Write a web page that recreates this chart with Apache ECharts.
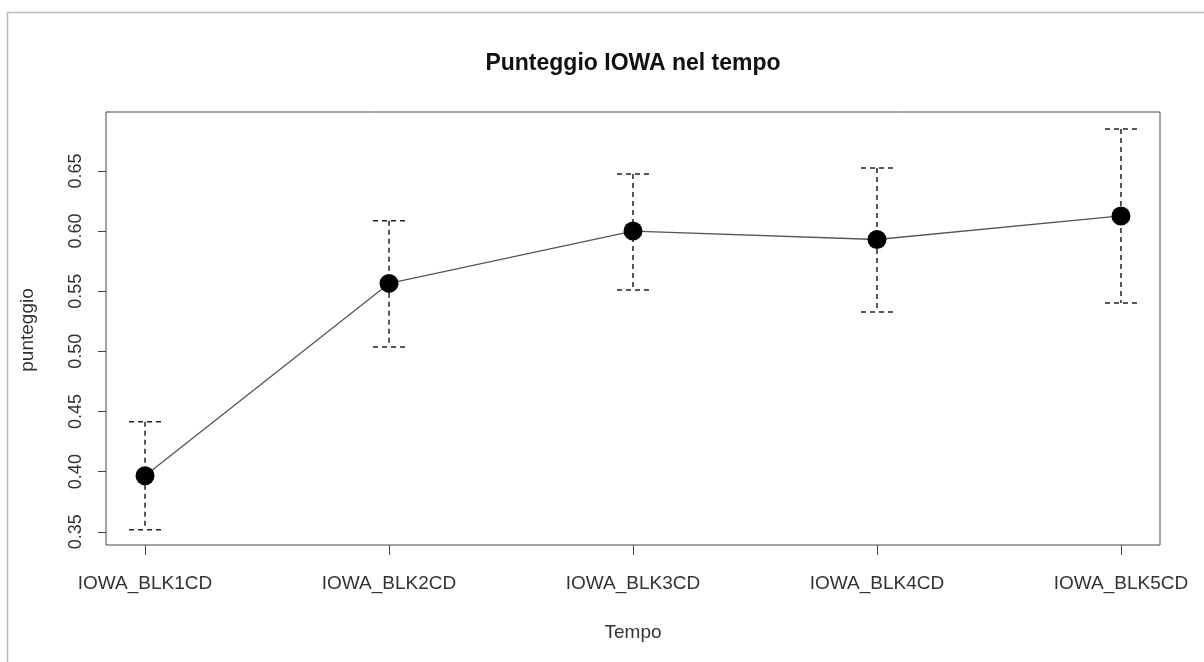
<!DOCTYPE html>
<html>
<head>
<meta charset="utf-8">
<script src="https://cdn.jsdelivr.net/npm/echarts@6/dist/echarts.min.js"></script>
<style>
html,body{margin:0;padding:0;background:#fff;}
#chart{width:1204px;height:662px;}
</style>
</head>
<body>
<div id="chart"></div>
<script>
var categories = ['IOWA_BLK1CD', 'IOWA_BLK2CD', 'IOWA_BLK3CD', 'IOWA_BLK4CD', 'IOWA_BLK5CD'];
var means = [0.3965, 0.5565, 0.6000, 0.5930, 0.6126];
var upper = [0.4414, 0.6085, 0.6475, 0.6525, 0.6849];
var lower = [0.3517, 0.5037, 0.5510, 0.5328, 0.5403];
var yTicks = [0.35, 0.40, 0.45, 0.50, 0.55, 0.60, 0.65];
var xPositions = [1, 2, 3, 4, 5];

var FONT = "'Liberation Sans', Arial, sans-serif";
var chart = echarts.init(document.getElementById('chart'));

var lineData = xPositions.map(function (x, i) { return [x, means[i]]; });
var errData = xPositions.map(function (x, i) { return [x, lower[i], upper[i]]; });

chart.setOption({
  animation: false,
  backgroundColor: '#fff',
  grid: {
    left: 106, top: 112, right: 44, bottom: 117,
    show: true, borderColor: '#444', borderWidth: 1, backgroundColor: 'transparent'
  },
  graphic: [
    { type: 'rect', shape: { x: 7.5, y: 12.5, width: 1300, height: 700 },
      style: { fill: 'none', stroke: '#bbb', lineWidth: 1.5 }, z: -10, silent: true },
    { type: 'text', x: 633, y: 64,
      style: { text: 'Punteggio IOWA nel tempo', font: 'bold 23px ' + FONT, fill: '#111',
               textAlign: 'center', textVerticalAlign: 'middle' } },
    { type: 'text', x: 633, y: 633,
      style: { text: 'Tempo', font: '19px ' + FONT, fill: '#333',
               textAlign: 'center', textVerticalAlign: 'middle' } },
    { type: 'text', x: 28, y: 330, rotation: Math.PI / 2,
      style: { text: 'punteggio', font: '19px ' + FONT, fill: '#333',
               textAlign: 'center', textVerticalAlign: 'middle' } }
  ],
  xAxis: {
    type: 'value', min: 0.84, max: 5.16,
    axisLine: { show: false },
    splitLine: { show: false },
    axisTick: { show: true, length: 10, lineStyle: { color: '#444', width: 1 }, customValues: xPositions },
    axisLabel: {
      customValues: xPositions, margin: 29, fontSize: 19, fontFamily: FONT, color: '#333',
      formatter: function (v) { return categories[Math.round(v) - 1] || ''; }
    }
  },
  yAxis: {
    type: 'value', min: 0.339, max: 0.699,
    axisLine: { show: false },
    splitLine: { show: false },
    axisTick: { show: true, length: 8, lineStyle: { color: '#444', width: 1 }, customValues: yTicks },
    axisLabel: {
      customValues: yTicks, rotate: 90, margin: 21, fontSize: 18, fontFamily: FONT, color: '#333',
      formatter: function (v) { return v.toFixed(2); }
    }
  },
  series: [
    {
      type: 'custom',
      data: errData,
      z: 2,
      renderItem: function (params, api) {
        var x = api.value(0);
        var top = api.coord([x, api.value(2)]);
        var bot = api.coord([x, api.value(1)]);
        var hw = 16;
        var st = { stroke: '#222', lineWidth: 1.5, lineDash: [5, 4], fill: null };
        return {
          type: 'group',
          children: [
            { type: 'line', shape: { x1: top[0], y1: top[1], x2: bot[0], y2: bot[1] }, style: st },
            { type: 'line', shape: { x1: top[0] - hw, y1: top[1], x2: top[0] + hw, y2: top[1] }, style: st },
            { type: 'line', shape: { x1: bot[0] - hw, y1: bot[1], x2: bot[0] + hw, y2: bot[1] }, style: st }
          ]
        };
      }
    },
    {
      type: 'line',
      data: lineData,
      z: 3,
      symbol: 'circle',
      symbolSize: 19,
      lineStyle: { color: '#555', width: 1.3 },
      itemStyle: { color: '#000', borderWidth: 0 }
    }
  ]
});
</script>
</body>
</html>
